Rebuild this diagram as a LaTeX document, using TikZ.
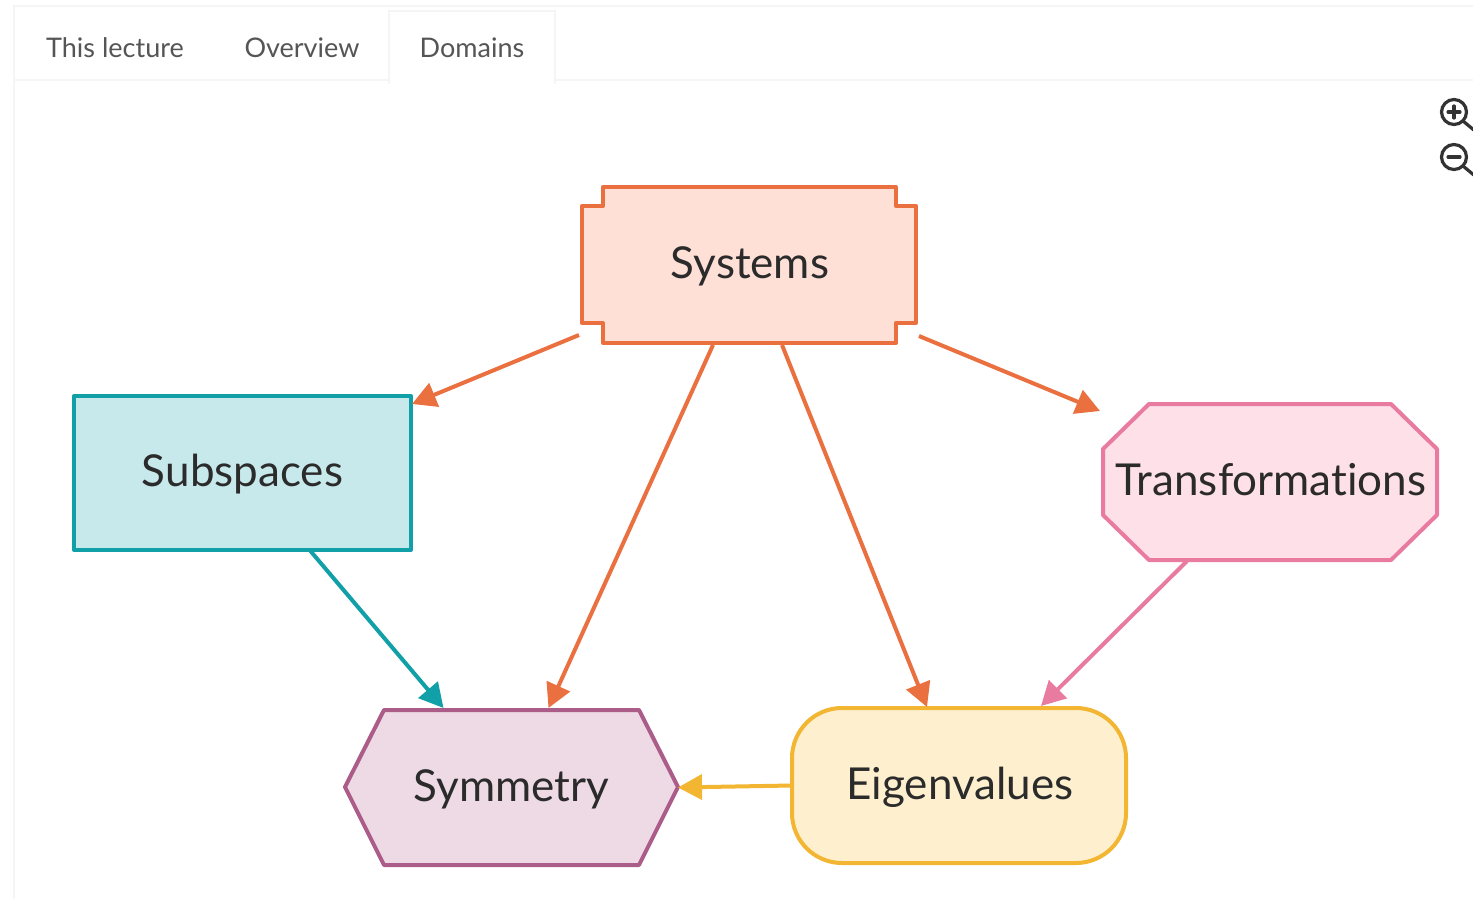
\documentclass[tikz,border=0pt]{standalone}
\usepackage{fontspec}
\setmainfont{Lato}[Ligatures=CommonOff]
\usetikzlibrary{arrows.meta}
\definecolor{ora}{HTML}{EA7040}\definecolor{orafill}{HTML}{FFE0D6}
\definecolor{tea}{HTML}{12A0A8}\definecolor{teafill}{HTML}{C8E9EC}
\definecolor{pin}{HTML}{E97BA0}\definecolor{pinfill}{HTML}{FDE0E8}
\definecolor{pur}{HTML}{AC5C88}\definecolor{purfill}{HTML}{EEDAE5}
\definecolor{yel}{HTML}{F2B632}\definecolor{yelfill}{HTML}{FEF0CF}
\definecolor{txt}{HTML}{2B2B2B}\definecolor{tabtxt}{HTML}{555555}\definecolor{rulec}{HTML}{F5F5F7}
\tikzset{
  label box/.style={inner sep=0pt,outer sep=0pt,text=txt,font=\fontsize{44}{50}\selectfont,anchor=center},
  shape line/.style={line width=4pt,line join=round},
  link/.style={line width=4pt,-{Triangle[length=24pt,width=25pt]}},
  tab/.style={text=tabtxt,font=\fontsize{27}{32}\selectfont,inner sep=0pt},
  tab rule/.style={draw=rulec,line width=1.5pt},
  icon/.style={draw=black!80,line width=3.2pt,line cap=round}
}
\begin{document}
\begin{tikzpicture}[x=1pt,y=-1pt]
\useasboundingbox (0,0) rectangle (1473,899);
\fill[white] (0,0) rectangle (1473,899);
% frame and tabs
\draw[tab rule] (14,899) -- (14,6) -- (1473,6);
\draw[tab rule] (14,80) -- (389,80);
\draw[tab rule] (555,80) -- (1473,80);
\draw[tab rule] (389,84) -- (389,11) -- (555,11) -- (555,84);
\node[tab] (t1) at (115,48) {This lecture};
\node[tab] (t2) at (302,48) {Overview};
\node[tab] (t3) at (472,48) {Domains};
% zoom icons
\begin{scope}
\clip (1400,80) rectangle (1473,190);
\draw[icon] (1454,112) circle (12.5);
\draw[icon] (1463,121) -- (1475,131);
\draw[icon] (1448,112) -- (1460,112) (1454,106) -- (1454,118);
\draw[icon] (1454,157) circle (12.5);
\draw[icon] (1463,166) -- (1475,176);
\draw[icon] (1448,157) -- (1460,157);
\end{scope}
% shapes
\draw[shape line,draw=ora,fill=orafill] (603,187) -- (896,187) -- (896,206) -- (916,206) -- (916,323) -- (896,323) -- (896,343) -- (603,343) -- (603,323) -- (582,323) -- (582,206) -- (603,206) -- cycle;
\draw[shape line,draw=tea,fill=teafill] (74,396) rectangle (411,550);
\draw[shape line,draw=pin,fill=pinfill] (1149,404) -- (1391,404) -- (1437,449) -- (1437,515) -- (1391,560) -- (1149,560) -- (1103,515) -- (1103,449) -- cycle;
\draw[shape line,draw=pur,fill=purfill] (384,710) -- (639,710) -- (678,787) -- (639,865) -- (384,865) -- (345,787) -- cycle;
\draw[shape line,draw=yel,fill=yelfill,rounded corners=50pt] (792,708) rectangle (1126,863);
% exact-size nodes that connectors attach to
\node[label box,minimum width=334pt,minimum height=156pt] (sys) at (749,265) {};
\node[label box,minimum width=337pt,minimum height=154pt] (sub) at (242.5,473) {};
\node[label box,minimum width=334pt,minimum height=156pt] (tra) at (1270,482) {};
\node[label box,minimum width=333pt,minimum height=155pt] (sym) at (511.5,787.5) {};
\node[label box,minimum width=334pt,minimum height=155pt] (eig) at (959,785.5) {};
\node[label box] (sysl) at ([shift={(1,1)}]sys.center) {Systems};
\node[label box] (subl) at ([shift={(0,1)}]sub.center) {Subspaces};
\node[label box] (tral) at ([shift={(1,-2)}]tra.center) {Transformations};
\node[label box] (syml) at ([shift={(0,2)}]sym.center) {Symmetry};
\node[label box] (eigl) at ([shift={(1,2)}]eig.center) {Eigenvalues};
% connectors
\draw[link,draw=ora] ([shift={(-3,-8)}]sys.south west) -- ([shift={(1,8)}]sub.north east);
\draw[link,draw=ora] ([shift={(3,-7)}]sys.south east) -- ([shift={(-3,7)}]tra.north west);
\draw[link,draw=ora] ([shift={(-36,2)}]sys.south) -- ([shift={(37,-2)}]sym.north);
\draw[link,draw=ora] ([shift={(33,2)}]sys.south) -- ([shift={(-32,-1)}]eig.north);
\draw[link,draw=tea] ([shift={(68,1)}]sub.south) -- ([shift={(-68,-2)}]sym.north);
\draw[link,draw=pin] ([shift={(-83,1)}]tra.south) -- ([shift={(82,-2)}]eig.north);
\draw[link,draw=yel] (eig.west) -- (sym.east);
\end{tikzpicture}
\end{document}
